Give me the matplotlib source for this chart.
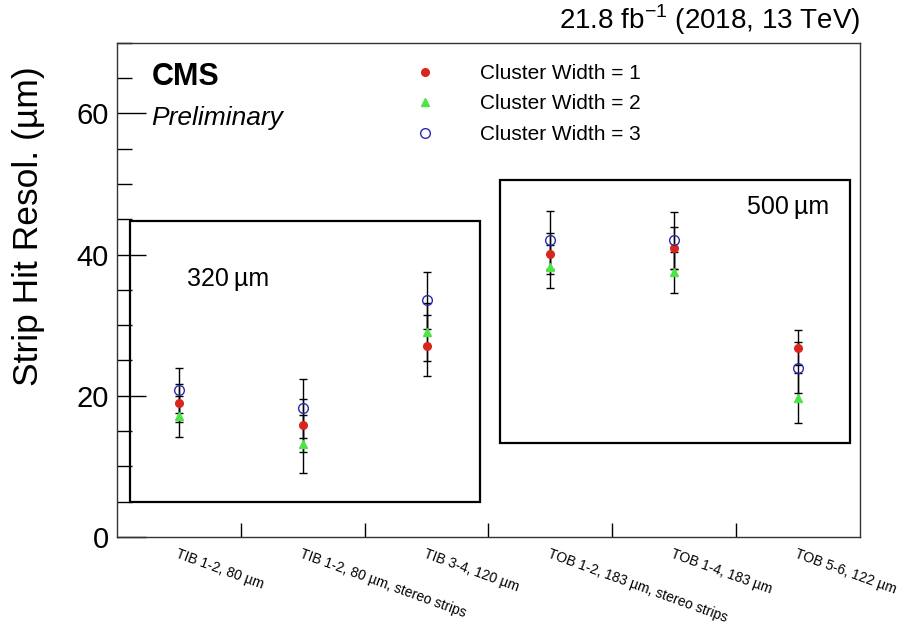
import matplotlib
matplotlib.use("Agg")
import matplotlib.pyplot as plt
from matplotlib.patches import Rectangle
from matplotlib.lines import Line2D
from matplotlib.ticker import MultipleLocator

plt.rcParams['font.family'] = ['Liberation Sans', 'DejaVu Sans']

# layer / module categories
labels = ["TIB 1-2, 80 µm", "TIB 1-2, 80 µm, stereo strips", "TIB 3-4, 120 µm",
          "TOB 1-2, 183 µm, stereo strips", "TOB 1-4, 183 µm", "TOB 5-6, 122 µm"]

# resolution per cluster width (um) and errors
cw1 = [19.0, 15.8, 27.1, 40.1, 40.9, 26.8]
cw1_err = [2.7, 3.8, 4.3, 2.9, 3.0, 2.5]
cw2 = [17.1, 13.2, 29.0, 38.3, 37.5, 19.7]
cw2_err = [2.9, 4.1, 4.1, 3.0, 2.9, 3.5]
cw3 = [20.8, 18.2, 33.5, 42.0, 42.0, 24.0]
cw3_err = [3.2, 4.2, 4.0, 4.1, 4.0, 3.6]

x = [i + 0.5 for i in range(len(labels))]

fig = plt.figure(figsize=(9.09, 6.26), dpi=100)
ax = fig.add_axes([0.1287, 0.1422, 0.8174, 0.7896])

red, green, blue = '#d9261c', '#4fe445', '#2b2bb0'
ebkw = dict(ecolor='black', elinewidth=1.0, capsize=3, capthick=1.0, linestyle='none')
ax.errorbar(x, cw1, yerr=cw1_err, fmt='o', color=red, markersize=5.5, zorder=3, **ebkw)
ax.errorbar(x, cw2, yerr=cw2_err, fmt='^', color=green, markersize=5.5, zorder=3, **ebkw)
ax.errorbar(x, cw3, yerr=cw3_err, fmt='o', color=blue, markerfacecolor='none',
            markeredgewidth=1.0, markersize=7, zorder=3, **ebkw)

ax.set_xlim(0, 6)
ax.set_ylim(0, 70)

# y axis
ax.yaxis.set_major_locator(MultipleLocator(20))
ax.yaxis.set_minor_locator(MultipleLocator(5))
ax.tick_params(axis='y', which='major', direction='in', length=21, width=1, labelsize=21, pad=6)
ax.tick_params(axis='y', which='minor', direction='in', length=11, width=1)
ax.set_ylabel("Strip Hit Resol. (µm)", fontsize=25.5)
ax.yaxis.set_label_coords(-0.097, 0.629)

# x axis: labels at bin centres, ticks at bin edges
ax.set_xticks(x)
ax.set_xticklabels(labels, rotation=-20, ha='left', va='top', rotation_mode='anchor', fontsize=10)
ax.tick_params(axis='x', which='major', length=0, pad=7)
ax.set_xticks([1, 2, 3, 4, 5], minor=True)
ax.tick_params(axis='x', which='minor', direction='in', length=10, width=1)

for s in ax.spines.values():
    s.set_linewidth(1.0)
    s.set_color('#333333')

# boxes for pitch groups
ax.add_patch(Rectangle((0.105, 5.0), 2.83, 39.7, fill=False, lw=1.6, edgecolor='black', zorder=2))
ax.add_patch(Rectangle((3.09, 13.3), 2.83, 37.3, fill=False, lw=1.6, edgecolor='black', zorder=2))
ax.text(0.565, 35.6, "320\u2009µm", fontsize=18)
ax.text(5.09, 45.8, "500\u2009µm", fontsize=18)

# CMS labels
ax.text(0.28, 64.0, "CMS", fontsize=22, fontweight='bold')
ax.text(0.28, 58.4, "Preliminary", fontsize=19, style='italic')
ax.text(1.0, 1.012, r"21.8 fb$^{\mathregular{-1}}$ (2018, 13 TeV)", transform=ax.transAxes,
        ha='right', va='bottom', fontsize=20)

handles = [
    Line2D([], [], marker='o', color=red, linestyle='none', markersize=5.5),
    Line2D([], [], marker='^', color=green, linestyle='none', markersize=5.5),
    Line2D([], [], marker='o', color=blue, markerfacecolor='none', linestyle='none',
           markersize=7, markeredgewidth=1.0),
]
ax.legend(handles, ['Cluster Width = 1', 'Cluster Width = 2', 'Cluster Width = 3'],
          loc='upper left', bbox_to_anchor=(0.368, 0.995), frameon=False, fontsize=15,
          handletextpad=1.9, labelspacing=0.55, handlelength=1.5)

fig.savefig("out.png", dpi=100)
